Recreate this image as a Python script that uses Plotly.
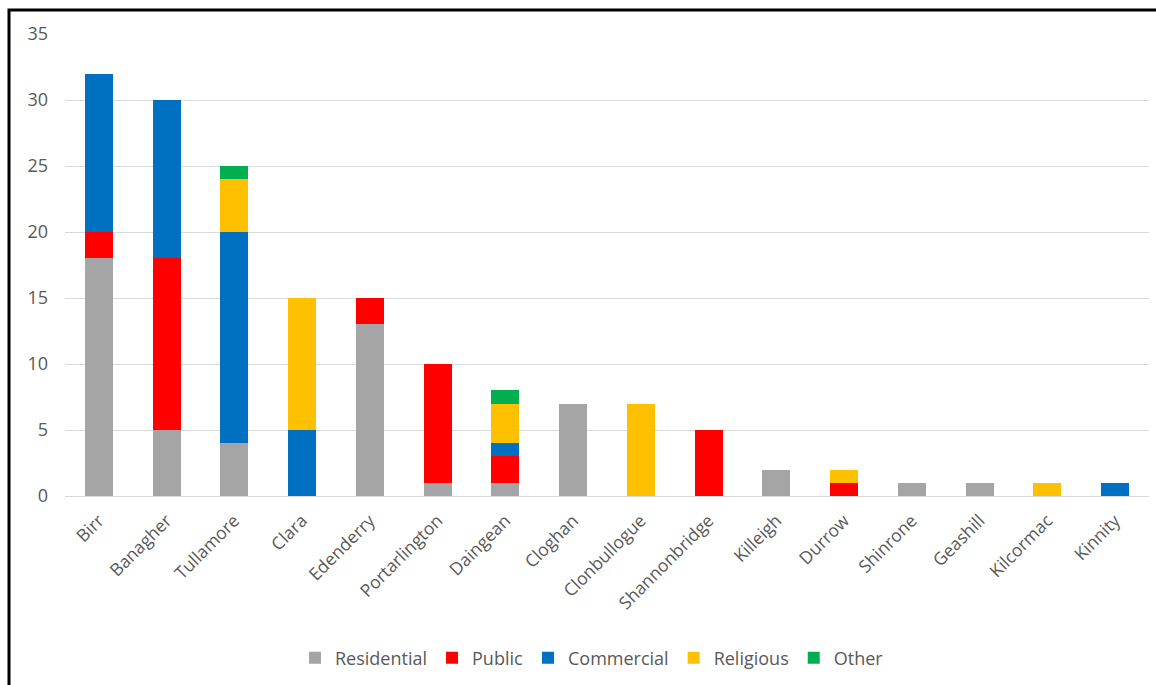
import plotly.graph_objects as go

towns = ["Birr", "Banagher", "Tullamore", "Clara", "Edenderry", "Portarlington",
         "Daingean", "Cloghan", "Clonbullogue", "Shannonbridge", "Killeigh",
         "Durrow", "Shinrone", "Geashill", "Kilcormac", "Kinnity"]
residential = [18, 5, 4, 0, 13, 1, 1, 7, 0, 0, 2, 0, 1, 1, 0, 0]
public      = [2, 13, 0, 0, 2, 9, 2, 0, 0, 5, 0, 1, 0, 0, 0, 0]
commercial  = [12, 12, 16, 5, 0, 0, 1, 0, 0, 0, 0, 0, 0, 0, 0, 1]
religious   = [0, 0, 4, 10, 0, 0, 3, 0, 7, 0, 0, 1, 0, 0, 1, 0]
other       = [0, 0, 1, 0, 0, 0, 1, 0, 0, 0, 0, 0, 0, 0, 0, 0]

series = [("Residential", residential, "#A5A5A5"),
          ("Public", public, "#FF0000"),
          ("Commercial", commercial, "#0070C0"),
          ("Religious", religious, "#FFC000"),
          ("Other", other, "#00B050")]

fig = go.Figure()
for name, vals, col in series:
    fig.add_trace(go.Bar(x=towns, y=vals, name=name, marker_color=col,
                         marker_line_width=0, width=0.41))

W, H = 1156, 685
L, R, T, B = 65, 7, 34, 189
pw, ph = W - L - R, H - T - B

def px_x(p):
    return (p - L) / pw

def px_y(p):
    return (H - B - p) / ph

fig.update_layout(
    width=W, height=H,
    barmode="stack",
    margin=dict(l=L, r=R, t=T, b=B),
    plot_bgcolor="white", paper_bgcolor="white",
    font=dict(family="Open Sans, Liberation Sans, sans-serif", size=18, color="#595959"),
    xaxis=dict(tickangle=-45, showgrid=False, showline=False, ticks="",
               tickfont=dict(size=17.5, color="#595959"), ticklabelstandoff=10),
    yaxis=dict(range=[0, 35], dtick=5, showgrid=True, gridcolor="#D9D9D9",
               gridwidth=1, zeroline=True, zerolinecolor="#D9D9D9", zerolinewidth=1,
               ticks="", tickfont=dict(size=18, color="#595959"), ticklabelstandoff=16),
    legend=dict(orientation="h", x=px_x(592), xanchor="center", y=px_y(658), yanchor="middle",
                font=dict(size=18, color="#595959"), itemwidth=30, traceorder="normal"),
    shapes=[dict(type="rect", xref="paper", yref="paper",
                 x0=px_x(9), x1=px_x(1170), y0=px_y(700), y1=px_y(10),
                 line=dict(color="black", width=3), fillcolor="rgba(0,0,0,0)",
                 layer="above")],
)

fig.write_html("out.html")
